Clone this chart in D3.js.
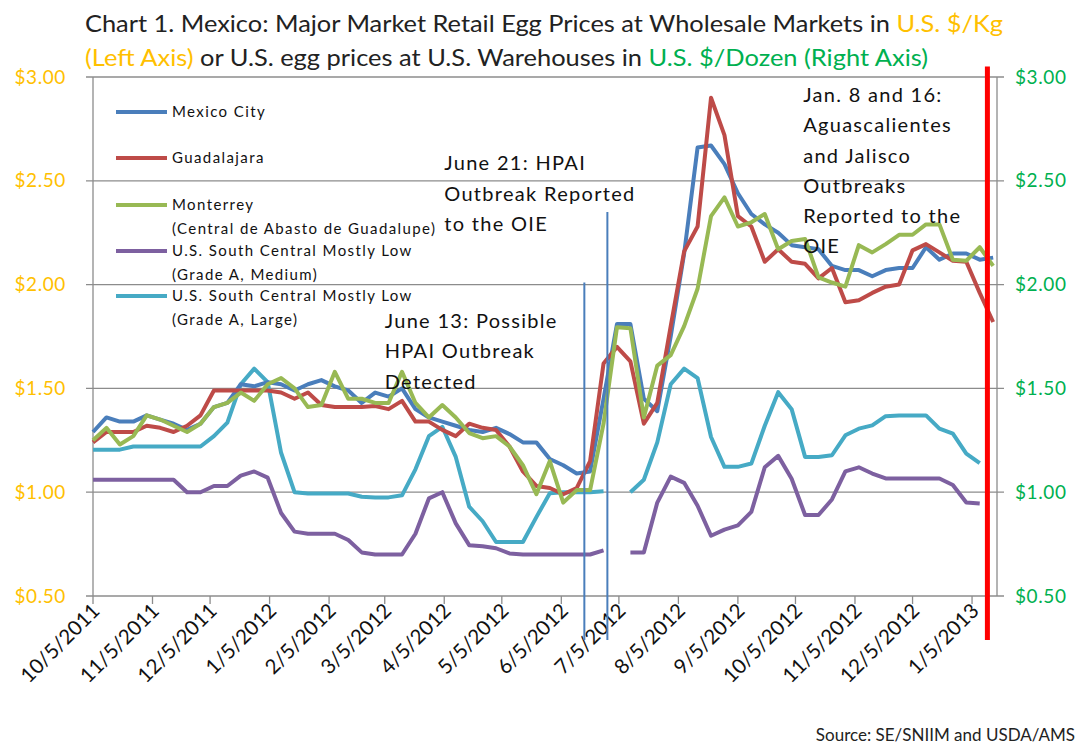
<!DOCTYPE html>
<html><head><meta charset="utf-8">
<script src="https://cdn.jsdelivr.net/npm/d3@7"></script>
<style>
body{margin:0;background:#fff;}
text{font-family:Lato,'Open Sans',sans-serif;}
</style>
</head><body>
<svg id="chart" width="1082" height="746"></svg>
<script>
// ---------- DATA ----------
const firstWeek = "2011-10-05";   // weekly observations start
const mexicoCity = [1.29,1.36,1.34,1.34,1.37,1.35,1.33,1.30,1.33,1.41,1.43,1.52,1.51,1.53,1.52,1.49,1.52,1.54,1.51,1.49,1.43,1.48,1.46,1.50,1.40,1.36,1.34,1.32,1.30,1.29,1.31,1.28,1.24,1.24,1.16,1.13,1.09,1.10,1.45,1.81,1.81,1.45,1.39,1.75,2.15,2.66,2.67,2.58,2.44,2.34,2.29,2.25,2.19,2.18,2.17,2.09,2.07,2.07,2.04,2.07,2.08,2.08,2.18,2.12,2.15,2.15,2.12,2.13];
const guadalajara = [1.24,1.29,1.29,1.29,1.32,1.31,1.29,1.32,1.37,1.49,1.49,1.49,1.49,1.49,1.48,1.45,1.48,1.42,1.41,1.41,1.41,1.415,1.40,1.44,1.34,1.34,1.30,1.27,1.33,1.31,1.30,1.22,1.10,1.03,1.02,0.99,1.02,1.15,1.62,1.70,1.63,1.33,1.43,1.80,2.16,2.28,2.90,2.72,2.33,2.28,2.11,2.17,2.11,2.10,2.03,2.08,1.915,1.925,1.96,1.99,2.00,2.165,2.195,2.155,2.115,2.11,1.96,1.82];
const monterrey = [1.25,1.31,1.23,1.27,1.37,1.35,1.32,1.29,1.33,1.41,1.43,1.48,1.44,1.52,1.55,1.50,1.41,1.42,1.58,1.45,1.45,1.43,1.43,1.58,1.43,1.36,1.42,1.36,1.285,1.26,1.27,1.22,1.13,0.99,1.15,0.95,1.01,1.01,1.33,1.795,1.79,1.36,1.61,1.66,1.80,1.98,2.33,2.42,2.28,2.30,2.34,2.17,2.21,2.22,2.035,2.01,1.99,2.19,2.155,2.195,2.24,2.24,2.29,2.29,2.12,2.115,2.18,2.09];
const usMedium = [1.06,1.06,1.06,1.06,1.06,1.06,1.06,1.00,1.00,1.03,1.03,1.08,1.10,1.07,0.90,0.81,0.80,0.80,0.80,0.77,0.71,0.70,0.70,0.70,0.80,0.97,1.00,0.85,0.745,0.74,0.73,0.705,0.70,0.70,0.70,0.70,0.70,0.70,0.72,null,0.71,0.71,0.95,1.075,1.045,0.935,0.79,0.82,0.84,0.905,1.12,1.175,1.065,0.89,0.89,0.965,1.10,1.12,1.09,1.066,1.066,1.066,1.066,1.066,1.035,0.95,0.945,null];
const usLarge = [1.205,1.205,1.205,1.22,1.22,1.22,1.22,1.22,1.22,1.27,1.335,1.52,1.595,1.53,1.19,1.00,0.994,0.994,0.994,0.994,0.978,0.975,0.975,0.985,1.11,1.27,1.315,1.17,0.93,0.86,0.76,0.76,0.76,0.88,0.995,1.00,1.00,1.00,1.005,null,1.00,1.06,1.24,1.52,1.595,1.55,1.266,1.122,1.122,1.138,1.32,1.482,1.40,1.17,1.17,1.178,1.274,1.306,1.322,1.366,1.37,1.37,1.37,1.306,1.282,1.186,1.14,null];

const seriesNames = ["Mexico City","Guadalajara","Monterrey","U.S. South Central Mostly Low","U.S. South Central Mostly Low"];
const seriesSubNames = ["","","(Central de Abasto de Guadalupe)","(Grade A, Medium)","(Grade A, Large)"];
const seriesColors = ["#4A7EBB","#BE4B48","#98B954","#7D60A0","#46AAC5"];

const xTickDates = ["2011-10-05","2011-11-05","2011-12-05","2012-01-05","2012-02-05","2012-03-05","2012-04-05","2012-05-05","2012-06-05","2012-07-05","2012-08-05","2012-09-05","2012-10-05","2012-11-05","2012-12-05","2013-01-05"];
const xTickLabels = ["10/5/2011","11/5/2011","12/5/2011","1/5/2012","2/5/2012","3/5/2012","4/5/2012","5/5/2012","6/5/2012","7/5/2012","8/5/2012","9/5/2012","10/5/2012","11/5/2012","12/5/2012","1/5/2013"];
const yTicks = [0.5,1.0,1.5,2.0,2.5,3.0];

const eventLines = [
  {date:"2012-06-17", top:2.01, color:"#4A7EBB", width:2},
  {date:"2012-06-29", top:2.35, color:"#4A7EBB", width:2},
  {date:"2013-01-13", top:3.05, color:"#FF0000", width:5}
];
const annotations = [
  {date:"2012-03-05", value:1.79, lines:["June 13: Possible","HPAI Outbreak","Detected"]},
  {date:"2012-04-05", value:2.55, lines:["June 21: HPAI","Outbreak Reported","to the OIE"]},
  {date:"2012-10-09", value:2.88, lines:["Jan. 8 and 16:","Aguascalientes","and Jalisco","Outbreaks","Reported to the","OIE"]}
];

// ---------- CHART ----------
const svg = d3.select("#chart");
const parse = d3.utcParse("%Y-%m-%d");
const x0 = parse(firstWeek);
const dates = mexicoCity.map((_, i) => d3.utcDay.offset(x0, 7*i));

const x = d3.scaleUtc().domain([parse("2011-10-05"), parse("2013-01-18")]).range([93, 997]);
const y = d3.scaleLinear().domain([0.5, 3.0]).range([596, 77]);

// gridlines
svg.append("g").selectAll("line").data(yTicks).join("line")
  .attr("x1", 86).attr("x2", 1004)
  .attr("y1", d => y(d)).attr("y2", d => y(d))
  .attr("stroke", "#8c8c8c").attr("stroke-width", 1.3);

// left/right axis lines
svg.append("line").attr("x1",93).attr("x2",93).attr("y1",y(3)).attr("y2",y(0.5)).attr("stroke","#8c8c8c").attr("stroke-width",1.3);
svg.append("line").attr("x1",997).attr("x2",997).attr("y1",y(3)).attr("y2",y(0.5)).attr("stroke","#8c8c8c").attr("stroke-width",1.3);

// x ticks
const xt = svg.append("g");
xt.selectAll("line").data(xTickDates).join("line")
  .attr("x1", d => x(parse(d))).attr("x2", d => x(parse(d)))
  .attr("y1", 596).attr("y2", 604)
  .attr("stroke", "#8c8c8c").attr("stroke-width", 1.3);
xt.selectAll("text").data(xTickLabels).join("text")
  .attr("transform", (d,i) => `translate(${x(parse(xTickDates[i]))+8},${612}) rotate(-45)`)
  .attr("text-anchor","end")
  .attr("font-size", 20.5).attr("fill","#111")
  .text(d => d);

// y labels
const fmt = d => "$" + d3.format(".2f")(d);
svg.append("g").selectAll("text").data(yTicks).join("text")
  .attr("x", 66).attr("y", d => y(d)).attr("dy","0.35em")
  .attr("text-anchor","end").attr("font-size",19).attr("letter-spacing",0.6)
  .attr("fill","#FFC000").text(fmt);
svg.append("g").selectAll("text").data(yTicks).join("text")
  .attr("x", 1015).attr("y", d => y(d)).attr("dy","0.35em")
  .attr("text-anchor","start").attr("font-size",19).attr("letter-spacing",0.6)
  .attr("fill","#00B050").text(fmt);

// series lines
const allSeries = [mexicoCity, guadalajara, monterrey, usMedium, usLarge];
const line = d3.line().defined(d => d != null).x((d,i) => x(dates[i])).y(d => y(d));
const order = [3,4,0,1,2];
order.forEach(si => {
  svg.append("path").datum(allSeries[si])
    .attr("d", line).attr("fill","none")
    .attr("stroke", seriesColors[si]).attr("stroke-width", 4)
    .attr("stroke-linejoin","round");
});

// legend
const legendY = [112, 158, 205, 251, 296];
const lg = svg.append("g");
seriesNames.forEach((n, i) => {
  lg.append("line").attr("x1",116).attr("x2",167).attr("y1",legendY[i]).attr("y2",legendY[i])
    .attr("stroke", seriesColors[i]).attr("stroke-width",4);
  lg.append("text").attr("x",172).attr("y",legendY[i]).attr("dy","0.35em")
    .attr("font-size",15).attr("letter-spacing",1.4).attr("fill","#111").text(n);
  if (seriesSubNames[i]) {
    lg.append("text").attr("x",172).attr("y",legendY[i]+24).attr("dy","0.35em")
      .attr("font-size",15).attr("letter-spacing",1.4).attr("fill","#111").text(seriesSubNames[i]);
  }
});

// annotations
annotations.forEach(a => {
  const t = svg.append("text").attr("font-size",20).attr("letter-spacing",1.3).attr("fill","#111");
  a.lines.forEach((l, j) => {
    t.append("tspan").attr("x", x(parse(a.date))).attr("y", y(a.value) + j*30.3).text(l);
  });
});

// event lines
eventLines.forEach(e => {
  svg.append("line").attr("x1", x(parse(e.date))).attr("x2", x(parse(e.date)))
    .attr("y1", y(e.top)).attr("y2", 640)
    .attr("stroke", e.color).attr("stroke-width", e.width);
});

// title
const t1 = svg.append("text").attr("x",85).attr("y",32).attr("font-size",23).attr("fill","#222")
  .attr("textLength",918).attr("lengthAdjust","spacingAndGlyphs");
t1.append("tspan").text("Chart 1. Mexico: Major Market Retail Egg Prices at  Wholesale Markets in ");
t1.append("tspan").attr("fill","#FFC000").text("U.S. $/Kg");
const t2 = svg.append("text").attr("x",85).attr("y",66).attr("font-size",23).attr("fill","#222")
  .attr("textLength",843).attr("lengthAdjust","spacingAndGlyphs");
t2.append("tspan").attr("fill","#FFC000").text("(Left Axis)");
t2.append("tspan").text(" or U.S. egg prices at  U.S. Warehouses in ");
t2.append("tspan").attr("fill","#00B050").text("U.S. $/Dozen (Right Axis)");

// source
svg.append("text").attr("x",1075).attr("y",741).attr("text-anchor","end")
  .attr("font-size",17).attr("fill","#222").text("Source: SE/SNIIM and USDA/AMS");
</script>
</body></html>
